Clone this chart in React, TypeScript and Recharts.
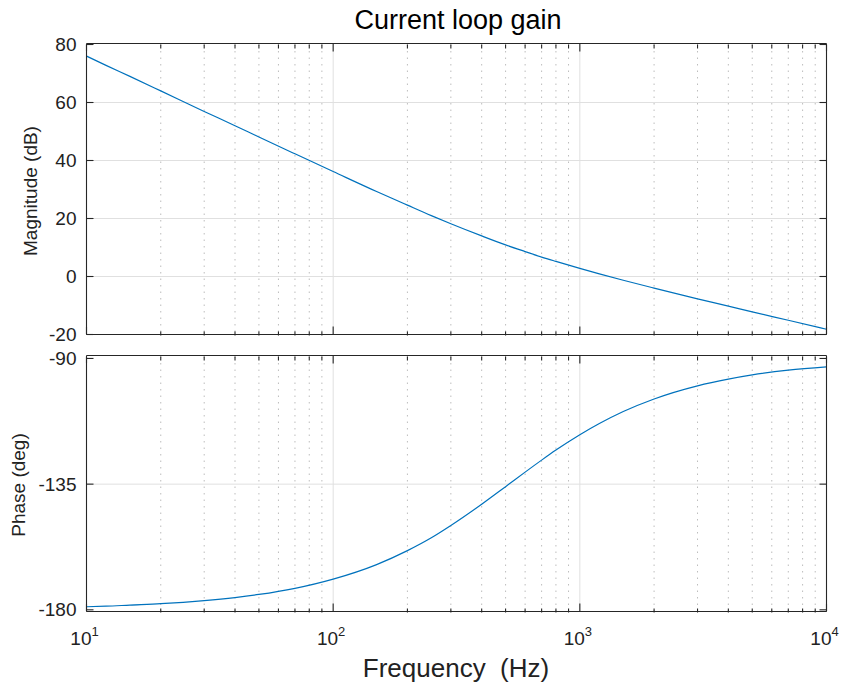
import { LineChart, Line, XAxis, YAxis, CartesianGrid } from "recharts";

// Bode plot of the current loop
const freqHz = [10, 12, 15, 20, 30, 40, 50, 70, 100, 150, 200, 250, 300, 400, 500, 600, 700, 800, 1000, 1200, 1500, 2000, 3000, 4000, 5000, 7000, 10000];
const magnitudeDb = [76.0, 72.8, 69.0, 64.0, 56.9, 52.0, 48.1, 42.3, 36.2, 29.3, 24.6, 21.0, 18.2, 14.0, 10.9, 8.6, 6.7, 5.2, 2.8, 0.9, -1.3, -4.0, -7.7, -10.2, -12.2, -15.1, -18.2];
const phaseDeg = [-178.9, -178.7, -178.3, -177.8, -176.7, -175.6, -174.5, -172.3, -169.0, -163.8, -158.8, -154.2, -149.8, -142.2, -135.9, -130.7, -126.4, -122.8, -117.3, -113.3, -109.0, -104.5, -99.8, -97.4, -95.9, -94.2, -93.0];

const freqTicks = [10, 20, 30, 40, 50, 60, 70, 80, 90, 100, 200, 300, 400, 500, 600, 700, 800, 900, 1000, 2000, 3000, 4000, 5000, 6000, 7000, 8000, 9000, 10000];
const decadeTicks = [10, 100, 1000, 10000];
const majorFreqGrid = [100, 1000];
const minorFreqGrid = freqTicks.filter((f) => !decadeTicks.includes(f));
const magTicks = [-20, 0, 20, 40, 60, 80];
const phaseTicks = [-180, -135, -90];

const rows = freqHz.map((f, i) => ({ f, mag: magnitudeDb[i], phase: phaseDeg[i] }));

const FONT = "'Liberation Sans', Arial, Helvetica, sans-serif";
const AXIS = "#262626";
const MAJOR_GRID = "#e0e0e0";
const MINOR_GRID = "#bdbdbd";
const LINE_BLUE = "#0072BD";

function DecadeLabel(props: any) {
  const { x, y, payload } = props;
  return (
    <text x={x - 2} y={y + 33} textAnchor="middle" fontSize={19} fill="#222" fontFamily={FONT}>
      10
      <tspan dy={-9} fontSize={13}>
        {Math.round(Math.log10(payload.value))}
      </tspan>
    </text>
  );
}

function ValueLabel(props: any) {
  const { x, y, payload } = props;
  return (
    <text x={x} y={y} dy="0.35em" textAnchor="end" fontSize={19} fill="#222" fontFamily={FONT}>
      {payload.value}
    </text>
  );
}

const NoLabel = () => <g />;

function Panel(props: {
  dataKey: string;
  domain: [number, number];
  yTicks: number[];
  hGrid: number[];
  width: number;
  height: number;
  margin: { top: number; right: number; bottom: number; left: number };
  showFreqLabels: boolean;
}) {
  const { dataKey, domain, yTicks, hGrid, width, height, margin, showFreqLabels } = props;
  const xBase = {
    dataKey: "f",
    type: "number" as const,
    scale: "log" as const,
    domain: [10, 10000],
    allowDataOverflow: true,
    interval: 0,
    height: 1,
    stroke: AXIS,
    strokeWidth: 1.1,
  };
  return (
    <LineChart width={width} height={height} data={rows} margin={margin}>
      <CartesianGrid horizontal={false} verticalValues={minorFreqGrid} stroke={MINOR_GRID} strokeDasharray="1.5 5" />
      <CartesianGrid verticalValues={majorFreqGrid} horizontalValues={hGrid} stroke={MAJOR_GRID} />
      <Line
        dataKey={dataKey}
        type="monotone"
        stroke={LINE_BLUE}
        strokeWidth={1.2}
        dot={false}
        activeDot={false}
        isAnimationActive={false}
      />
      {/* decade ticks; the bottom one carries the labels */}
      <XAxis
        {...xBase}
        ticks={decadeTicks}
        tickSize={-8}
        tickMargin={8}
        tick={showFreqLabels ? (p: any) => <DecadeLabel {...p} /> : NoLabel}
      />
      <XAxis {...xBase} xAxisId="top" orientation="top" ticks={decadeTicks} tickSize={-8} tick={NoLabel} />
      {/* minor ticks, no labels */}
      <XAxis {...xBase} xAxisId="minB" ticks={minorFreqGrid} tickSize={-4} tick={NoLabel} axisLine={false} />
      <XAxis {...xBase} xAxisId="minT" orientation="top" ticks={minorFreqGrid} tickSize={-4} tick={NoLabel} axisLine={false} />
      <YAxis
        type="number"
        domain={domain}
        allowDataOverflow
        ticks={yTicks}
        interval={0}
        width={86.5}
        stroke={AXIS}
        strokeWidth={1.1}
        tickSize={-7}
        tickMargin={17}
        tick={(p: any) => <ValueLabel {...p} />}
      />
      <YAxis
        yAxisId="right"
        orientation="right"
        type="number"
        domain={domain}
        allowDataOverflow
        ticks={yTicks}
        interval={0}
        width={1}
        stroke={AXIS}
        strokeWidth={1.1}
        tickSize={-7}
        tick={NoLabel}
      />
    </LineChart>
  );
}

export default function App() {
  return (
    <div style={{ position: "absolute", left: 0, top: 0, width: 841, height: 688, background: "#fff" }}>
      <div style={{ position: "absolute", left: 0, top: 0 }}>
        <Panel
          dataKey="mag"
          domain={[-20, 80]}
          yTicks={magTicks}
          hGrid={[0, 20, 40, 60]}
          width={841}
          height={350}
          margin={{ top: 42.5, right: 13.5, bottom: 13.5, left: 0 }}
          showFreqLabels={false}
        />
      </div>
      <div style={{ position: "absolute", left: 0, top: 340 }}>
        <Panel
          dataKey="phase"
          domain={[-180.6, -89.3]}
          yTicks={phaseTicks}
          hGrid={[-135]}
          width={841}
          height={348}
          margin={{ top: 14.5, right: 13.5, bottom: 74.5, left: 0 }}
          showFreqLabels
        />
      </div>
      <svg
        width={841}
        height={688}
        style={{ position: "absolute", left: 0, top: 0, pointerEvents: "none" }}
        fontFamily={FONT}
      >
        <text x={458} y={29} textAnchor="middle" fontSize={27} fill="#000">
          Current loop gain
        </text>
        <text transform="translate(37,191) rotate(-90)" textAnchor="middle" fontSize={19} fill="#222">
          Magnitude (dB)
        </text>
        <text transform="translate(25,485) rotate(-90)" textAnchor="middle" fontSize={19} fill="#222">
          Phase (deg)
        </text>
        <text x={456} y={677} textAnchor="middle" fontSize={26} fill="#222" xmlSpace="preserve">
          Frequency  (Hz)
        </text>
      </svg>
    </div>
  );
}
